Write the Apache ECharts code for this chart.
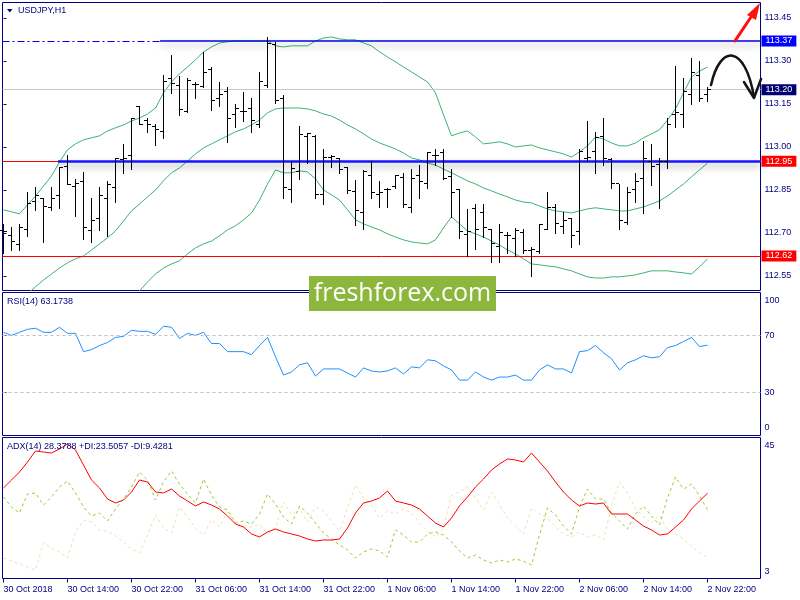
<!DOCTYPE html>
<html><head><meta charset="utf-8">
<script src="https://cdn.jsdelivr.net/npm/echarts@6/dist/echarts.min.js"></script>
<style>html,body{margin:0;padding:0;background:#fff}#c{width:800px;height:600px}</style>
</head><body><div id="c"></div>
<script>
// ---------- DATA ----------
const tickLabels = ['30 Oct 2018','30 Oct 14:00','30 Oct 22:00','31 Oct 06:00','31 Oct 14:00','31 Oct 22:00','1 Nov 06:00','1 Nov 14:00','1 Nov 22:00','2 Nov 06:00','2 Nov 14:00','2 Nov 22:00'];
const priceTicks = [112.55,112.70,112.85,113.00,113.15,113.30,113.45];
const rsiTicks = [0,30,70,100];
const adxTicks = [3,45];
const levelResistance = 113.37, levelPivot = 112.95, levelSupport = 112.62, lastPrice = 113.20;

const open = [112.710,112.690,112.660,112.713,112.811,112.821,112.789,112.832,112.931,112.862,
112.881,112.710,112.751,112.821,112.859,112.955,112.972,113.143,113.094,113.073,
113.054,113.240,113.213,113.123,113.217,113.211,113.272,113.168,113.193,113.112,
113.123,113.133,113.080,113.213,113.356,113.170,112.852,112.914,113.036,113.038,
112.836,112.963,112.960,112.929,112.844,112.772,112.902,112.835,112.853,112.862,
112.893,112.789,112.902,112.871,112.972,112.981,112.896,112.852,112.696,112.784,
112.772,112.713,112.652,112.693,112.681,112.702,112.640,112.635,112.713,112.789,
112.722,112.751,112.705,112.960,112.984,113.038,112.958,112.871,112.736,112.852,
112.890,112.951,112.939,112.949,113.112,113.112,113.182,113.251,113.182];
const high = [112.733,112.722,112.731,112.842,112.862,112.821,112.862,112.931,112.972,112.890,
112.914,112.821,112.862,112.881,112.960,113.010,113.100,113.143,113.100,113.080,
113.251,113.321,113.246,113.240,113.228,113.333,113.280,113.228,113.211,113.150,
113.193,113.170,113.263,113.383,113.368,113.182,112.949,113.073,113.050,113.042,
112.993,112.972,112.960,112.929,112.885,112.920,112.951,112.881,112.858,112.902,
112.911,112.923,112.937,112.981,112.993,112.993,112.925,112.852,112.784,112.801,
112.801,112.713,112.730,112.705,112.718,112.713,112.652,112.730,112.842,112.801,
112.774,112.751,112.993,113.092,113.051,113.100,112.960,112.871,112.859,112.911,
113.021,113.010,112.963,113.100,113.284,113.240,113.310,113.300,113.211];
const low = [112.631,112.640,112.640,112.690,112.780,112.670,112.780,112.786,112.870,112.760,
112.679,112.670,112.710,112.690,112.809,112.910,112.922,113.080,113.051,113.007,
113.030,113.190,113.112,113.123,113.170,113.211,113.129,113.143,113.018,113.071,
113.089,113.051,113.071,113.211,113.153,112.821,112.809,112.890,112.943,112.821,
112.801,112.931,112.910,112.841,112.728,112.713,112.821,112.789,112.789,112.856,
112.792,112.772,112.821,112.856,112.937,112.890,112.757,112.681,112.620,112.643,
112.687,112.600,112.600,112.631,112.620,112.631,112.550,112.631,112.713,112.701,
112.701,112.650,112.660,112.951,112.910,112.937,112.858,112.713,112.733,112.807,
112.771,112.867,112.787,112.928,113.071,113.071,113.149,113.161,113.161];
const close = [112.705,112.672,112.720,112.803,112.832,112.792,112.821,112.928,112.870,112.871,
112.718,112.742,112.830,112.870,112.960,112.960,113.100,113.080,113.079,113.062,
113.228,113.222,113.131,113.232,113.217,113.261,113.161,113.182,113.100,113.133,
113.123,113.091,113.228,113.362,113.161,112.859,112.925,113.042,113.048,112.836,
112.963,112.966,112.922,112.848,112.780,112.914,112.842,112.842,112.853,112.900,
112.801,112.890,112.881,112.981,112.972,112.890,112.842,112.705,112.705,112.713,
112.718,112.664,112.702,112.693,112.710,112.640,112.644,112.730,112.789,112.733,
112.745,112.693,112.984,112.963,113.034,112.960,112.871,112.745,112.842,112.879,
112.960,112.931,112.949,113.080,113.121,113.193,113.261,113.170,113.200];

const bandUpper = [112.781,112.774,112.767,112.798,112.829,112.864,112.899,112.948,112.990,113.011,
113.025,113.032,113.039,113.056,113.067,113.077,113.091,113.101,113.115,113.136,
113.189,113.227,113.255,113.279,113.304,113.332,113.349,113.363,113.367,113.370,
113.370,113.370,113.370,113.370,113.353,113.349,113.353,113.353,113.353,113.370,
113.380,113.384,113.377,113.374,113.374,113.363,113.353,113.332,113.314,113.297,
113.279,113.262,113.244,113.227,113.189,113.112,113.039,113.049,113.056,113.035,
113.011,113.014,113.018,113.011,113.000,113.004,113.007,112.997,112.990,112.983,
112.976,112.965,112.983,113.004,113.035,113.028,113.014,113.004,113.004,113.014,
113.032,113.046,113.060,113.094,113.133,113.189,113.244,113.265,113.279];
const bandMiddle = [null,null,null,112.488,112.512,112.536,112.557,112.578,112.596,112.610,
112.620,112.641,112.662,112.683,112.707,112.742,112.777,112.801,112.826,112.850,
112.882,112.910,112.927,112.951,112.976,112.997,113.011,113.025,113.039,113.053,
113.063,113.077,113.094,113.119,113.133,113.136,113.136,113.136,113.133,113.126,
113.115,113.108,113.094,113.077,113.063,113.046,113.028,113.014,113.004,112.993,
112.979,112.962,112.955,112.944,112.937,112.923,112.910,112.896,112.882,112.871,
112.857,112.847,112.836,112.826,112.815,112.808,112.805,112.794,112.784,112.777,
112.774,112.770,112.777,112.784,112.788,112.784,112.781,112.777,112.777,112.784,
112.791,112.801,112.812,112.829,112.850,112.871,112.896,112.920,112.944];
const bandLower = [null,null,null,null,null,null,null,null,null,null,
null,null,null,null,null,null,112.474,112.498,112.529,112.557,
112.578,112.592,112.603,112.627,112.648,112.662,112.672,112.690,112.711,112.725,
112.746,112.770,112.815,112.871,112.920,112.910,112.910,112.917,112.913,112.889,
112.850,112.833,112.815,112.781,112.746,112.732,112.721,112.711,112.697,112.686,
112.676,112.669,112.665,112.662,112.676,112.718,112.756,112.732,112.707,112.697,
112.686,112.672,112.658,112.641,112.627,112.610,112.592,112.589,112.585,112.582,
112.575,112.568,112.557,112.547,112.543,112.543,112.547,112.547,112.550,112.554,
112.561,112.568,112.568,112.568,112.564,112.561,112.557,112.582,112.610];

const rsi = [72.14,70.01,72.14,74.27,74.98,72.14,72.14,75.69,71.43,71.43,
58.64,60.06,62.90,65.03,68.59,69.30,73.56,72.85,72.85,70.72,
76.40,75.69,67.87,71.43,70.01,72.14,64.32,64.32,58.64,58.64,
58.64,56.50,62.90,68.59,55.08,42.29,44.42,49.40,50.82,41.58,
46.55,46.55,46.55,43.71,40.87,47.26,45.13,44.42,45.13,47.26,
43.00,47.97,47.26,52.95,52.24,48.68,45.84,38.73,38.73,44.42,
40.87,38.73,40.87,40.87,42.29,38.73,38.73,45.84,49.40,46.55,
46.55,43.71,58.64,59.35,62.90,57.92,53.66,45.84,50.82,52.95,
55.79,54.37,55.08,61.48,62.90,65.74,68.59,62.19,63.17];

const adx = [29.96,32.34,34.72,37.70,40.98,40.68,40.38,41.58,43.07,41.28,
36.81,32.34,29.96,26.68,25.49,26.38,28.77,32.34,31.75,28.77,
28.47,29.66,27.58,26.09,24.60,25.79,24.89,23.70,21.62,19.23,
18.34,16.26,15.36,16.85,17.75,16.85,16.26,15.66,14.77,14.17,
14.47,14.47,14.77,18.04,22.51,25.49,26.09,26.98,29.06,26.09,
25.49,24.89,23.70,21.62,19.53,18.34,21.02,24.60,27.28,30.26,
32.64,35.32,37.11,38.60,38.30,37.70,40.38,37.70,35.02,31.75,
28.77,26.38,24.60,25.49,25.19,25.49,22.21,22.21,22.21,20.43,
18.64,17.45,15.96,16.26,18.34,20.43,23.70,26.09,28.38];
const plusDI = [27.28,24.30,22.51,28.17,28.47,24.89,27.28,30.26,32.04,28.47,
24.30,21.62,22.51,20.13,23.70,26.68,30.26,34.72,32.34,26.38,
31.75,35.02,31.15,28.17,25.49,32.64,27.87,24.30,23.41,19.53,
20.13,19.23,22.21,28.17,25.19,21.32,19.23,24.60,22.51,19.53,
16.55,14.77,12.98,11.49,9.11,10.89,11.79,11.19,9.40,17.45,
15.96,13.87,13.87,16.26,16.85,15.96,13.87,11.19,9.11,10.00,
8.51,7.62,8.51,7.92,8.81,8.21,7.02,15.96,24.00,21.92,
18.64,16.26,24.30,29.66,26.68,26.68,22.51,20.13,17.75,22.21,
24.60,21.62,18.94,26.98,33.24,29.66,31.15,27.58,23.51];
const minusDI = [9.11,8.21,7.32,6.43,5.53,13.57,12.09,10.89,9.11,16.85,
20.43,19.83,17.45,17.15,15.66,13.87,11.79,10.60,15.96,21.92,
18.04,16.55,24.30,21.32,18.04,15.96,20.43,18.34,22.81,19.83,
18.34,18.34,19.23,16.26,18.04,25.79,21.92,24.00,19.83,24.30,
23.11,20.13,17.15,24.00,30.85,26.98,24.89,21.02,23.11,22.21,
23.70,22.51,19.53,17.15,15.36,18.04,27.87,28.77,30.26,26.98,
23.41,28.77,24.89,21.02,18.64,16.26,24.00,22.21,21.02,18.34,
16.26,15.36,16.85,15.36,15.96,14.47,24.60,31.75,28.47,24.00,
21.32,19.53,21.92,17.45,16.26,14.77,12.68,10.60,9.43];

// hand-drawn annotations, in (bar index, price) space
const redArrowLine = [[91.44,113.370],[93.44,113.4535]];
const redArrowHead = [[94.56,113.5024],[92.94,113.4605],[94.06,113.4431]];
const blackCurve = [[88.44,113.2163],[89.56,113.3593],[92.69,113.3593],[93.81,113.1745]];
const blackHead = [[92.56,113.2268],[93.81,113.1710],[94.69,113.2372]];

// ---------- CHART ----------
const FONT = '"Liberation Sans", Arial, sans-serif';
const NAVY = '#000080';
const X_MIN = -0.125, X_MAX = 94.625;
const xTickVals = tickLabels.map((_, k) => k * 8);
const idx = a => a.map((v, i) => [i, v]).filter(p => p[1] !== null);

const chart = echarts.init(document.getElementById('c'), null, {renderer: 'canvas'});

const gridBase = {left: 2.5, right: 39.5, show: true, borderColor: NAVY, borderWidth: 1, containLabel: false, outerBoundsMode: 'none'};
const hiddenX = gi => ({type: 'value', gridIndex: gi, min: X_MIN, max: X_MAX, show: false, splitLine: {show: false}});
const lbl = {color: NAVY, fontSize: 9, fontFamily: FONT};

const labelBox = (txt, bg) => ({show: true, position: 'end', distance: 1, formatter: txt, color: '#fff',
  backgroundColor: bg, padding: [1, 4, 0, 4], fontSize: 9, lineHeight: 10, fontFamily: FONT});
const shadow = {shadowColor: 'rgba(0,0,0,0.35)', shadowBlur: 7, shadowOffsetY: 4};

const option = {
  animation: false,
  backgroundColor: '#fff',
  grid: [
    Object.assign({top: 2.5, height: 288}, gridBase),
    Object.assign({top: 292.5, height: 143}, gridBase),
    Object.assign({top: 437.5, height: 141}, gridBase)
  ],
  xAxis: [hiddenX(0), hiddenX(1), {
    type: 'value', gridIndex: 2, min: X_MIN, max: X_MAX,
    axisLine: {show: false},
    splitLine: {show: false},
    axisTick: {show: true, customValues: xTickVals, length: 4, lineStyle: {color: NAVY}},
    axisLabel: Object.assign({customValues: xTickVals, align: 'left', margin: 7,
      formatter: v => tickLabels[Math.round(v / 8)]}, lbl)
  }],
  yAxis: [{
    type: 'value', gridIndex: 0, position: 'right', min: 112.4994, max: 113.5041, scale: true,
    axisLine: {show: false}, splitLine: {show: false},
    axisTick: {show: true, customValues: priceTicks, length: 3, lineStyle: {color: NAVY}},
    axisLabel: Object.assign({customValues: priceTicks, margin: 4, formatter: v => v.toFixed(2)}, lbl)
  }, {
    type: 'value', gridIndex: 1, position: 'right', min: 0, max: 100,
    axisLine: {show: false}, splitLine: {show: false},
    axisTick: {show: true, customValues: [30, 70], length: 3, lineStyle: {color: NAVY}},
    axisLabel: Object.assign({customValues: rsiTicks, margin: 4, showMinLabel: true, showMaxLabel: true, hideOverlap: false,
      formatter: v => v >= 100 ? '{t|100}' : (v <= 0 ? '{b|0}' : '{n|' + v + '}'),
      rich: {t: Object.assign({padding: [16, 0, 0, 0]}, lbl), b: Object.assign({padding: [0, 0, 15, 0]}, lbl), n: lbl}}, lbl)
  }, {
    type: 'value', gridIndex: 2, position: 'right', min: 3, max: 45,
    axisLine: {show: false}, splitLine: {show: false},
    axisTick: {show: false},
    axisLabel: Object.assign({customValues: adxTicks, margin: 4, showMinLabel: true, showMaxLabel: true, hideOverlap: false,
      formatter: v => v >= 45 ? '{t|45}' : '{b|3}',
      rich: {t: Object.assign({padding: [16, 0, 0, 0]}, lbl), b: Object.assign({padding: [0, 0, 14, 0]}, lbl)}}, lbl)
  }],
  series: [
    {
      type: 'line', name: 'BB upper', xAxisIndex: 0, yAxisIndex: 0, data: idx(bandUpper),
      showSymbol: false, symbol: 'none', lineStyle: {color: '#3cb371', width: 1}, z: 2
    },
    {
      type: 'line', name: 'BB middle', xAxisIndex: 0, yAxisIndex: 0, data: idx(bandMiddle),
      showSymbol: false, symbol: 'none', lineStyle: {color: '#3cb371', width: 1}, z: 2
    },
    {
      type: 'line', name: 'BB lower', xAxisIndex: 0, yAxisIndex: 0, data: idx(bandLower),
      showSymbol: false, symbol: 'none', lineStyle: {color: '#3cb371', width: 1}, z: 2
    },
    {
      type: 'line', name: 'levels', xAxisIndex: 0, yAxisIndex: 0, data: [], z: 4,
      markLine: {
        silent: true, symbol: ['none', 'none'], animation: false, precision: 2,
        data: [
          {yAxis: lastPrice, lineStyle: {color: '#c8c8c8', type: 'solid', width: 1}, label: labelBox('113.20', '#000070')},
          {yAxis: levelSupport, lineStyle: {color: '#ff0000', type: 'solid', width: 1}, label: labelBox('112.62', '#ff0000')},
          {yAxis: levelPivot + 0.0035, lineStyle: {color: '#ff0000', type: 'solid', width: 1}, label: {show: false}},
          {yAxis: levelPivot - 0.0035, lineStyle: {color: '#ff0000', type: 'solid', width: 1}, label: {show: false}},
          [{coord: [6.81, levelPivot], lineStyle: Object.assign({color: '#1414ff', type: 'solid', width: 2.5}, shadow), label: labelBox('112.95', '#ff0000')},
           {coord: [X_MAX, levelPivot]}],
          [{coord: [X_MIN, levelResistance], lineStyle: {color: '#0000e6', type: [7, 3, 2, 3], width: 1}, label: {show: false}},
           {coord: [19.56, levelResistance]}],
          [{coord: [19.56, levelResistance], lineStyle: Object.assign({color: '#0000e6', type: 'solid', width: 1.5}, shadow), label: labelBox('113.37', '#0000ff')},
           {coord: [X_MAX, levelResistance]}]
        ]
      }
    },
    {
      type: 'custom', name: 'USDJPY', xAxisIndex: 0, yAxisIndex: 0, z: 5,
      data: open.map((o, i) => [i, o, high[i], low[i], close[i]]),
      encode: {x: 0, y: [1, 2, 3, 4]},
      renderItem: function (params, api) {
        const i = api.value(0);
        const pH = api.coord([i, api.value(2)]), pL = api.coord([i, api.value(3)]);
        const pO = api.coord([i, api.value(1)]), pC = api.coord([i, api.value(4)]);
        const n = Math.round(pH[0] - 0.5);
        const x = n + 0.5;
        const s = y => Math.round(y - 0.5) + 0.5;
        const st = {stroke: '#000', lineWidth: 1};
        return {type: 'group', children: [
          {type: 'line', shape: {x1: x, y1: Math.round(pH[1]), x2: x, y2: Math.round(pL[1]) + 1}, style: st},
          {type: 'line', shape: {x1: n - 3, y1: s(pO[1]), x2: n, y2: s(pO[1])}, style: st},
          {type: 'line', shape: {x1: n + 1, y1: s(pC[1]), x2: n + 4, y2: s(pC[1])}, style: st}
        ]};
      }
    },
    {
      type: 'line', name: 'RSI(14)', xAxisIndex: 1, yAxisIndex: 1, data: idx(rsi),
      showSymbol: false, symbol: 'none', lineStyle: {color: '#1e90ff', width: 1},
      markLine: {silent: true, symbol: ['none', 'none'], animation: false, label: {show: false},
        lineStyle: {color: '#c0c0c0', type: [3, 3], width: 1},
        data: [{yAxis: 70}, {yAxis: 30}]}
    },
    {
      type: 'line', name: '-DI', xAxisIndex: 2, yAxisIndex: 2, data: idx(minusDI),
      showSymbol: false, symbol: 'none', lineStyle: {color: '#f5deb3', width: 1, type: [3, 3]}
    },
    {
      type: 'line', name: '+DI', xAxisIndex: 2, yAxisIndex: 2, data: idx(plusDI),
      showSymbol: false, symbol: 'none', lineStyle: {color: '#9acd32', width: 1, type: [3, 3]}
    },
    {
      type: 'line', name: 'ADX', xAxisIndex: 2, yAxisIndex: 2, data: idx(adx),
      showSymbol: false, symbol: 'none', lineStyle: {color: '#ff0000', width: 1}
    },
    {
      type: 'custom', name: 'annotations', xAxisIndex: 0, yAxisIndex: 0, clip: false, z: 20,
      data: [[90, 113.3]],
      renderItem: function (params, api) {
        const c = p => api.coord(p);
        const l0 = c(redArrowLine[0]), l1 = c(redArrowLine[1]);
        const b = blackCurve.map(c);
        return {type: 'group', children: [
          {type: 'line', shape: {x1: l0[0], y1: l0[1], x2: l1[0], y2: l1[1]}, style: {stroke: '#ff1010', lineWidth: 3, lineCap: 'round'}},
          {type: 'polygon', shape: {points: redArrowHead.map(c)}, style: {fill: '#ff1010'}},
          {type: 'bezierCurve', shape: {x1: b[0][0], y1: b[0][1], cpx1: b[1][0], cpy1: b[1][1], cpx2: b[2][0], cpy2: b[2][1], x2: b[3][0], y2: b[3][1]},
            style: {stroke: '#151515', lineWidth: 2.5, fill: null, lineCap: 'round'}},
          {type: 'polyline', shape: {points: blackHead.map(c)}, style: {stroke: '#151515', lineWidth: 2.5, fill: null, lineCap: 'round', lineJoin: 'round'}}
        ]};
      }
    }
  ],
  graphic: [
    {type: 'polygon', shape: {points: [[7, 9], [12.5, 9], [9.75, 12.5]]}, style: {fill: NAVY}, z: 50},
    {type: 'text', left: 18, top: 6, style: {text: 'USDJPY,H1', fill: NAVY, fontSize: 9, fontFamily: FONT}, z: 50},
    {type: 'text', left: 7, top: 297, style: {text: 'RSI(14) 63.1738', fill: NAVY, fontSize: 9, fontFamily: FONT}, z: 50},
    {type: 'text', left: 7, top: 442, style: {text: 'ADX(14) 28.3788 +DI:23.5057 -DI:9.4281', fill: NAVY, fontSize: 9, fontFamily: FONT}, z: 50},
    {type: 'rect', shape: {x: 309, y: 276, width: 187, height: 35}, style: {fill: '#8db63c'}, z: 60},
    {type: 'text', x: 402.5, y: 293.5, style: {text: 'freshforex.com', fill: '#ffffff', fontSize: 25, fontFamily: '"Open Sans", sans-serif',
      align: 'center', verticalAlign: 'middle'}, z: 61}
  ]
};
chart.setOption(option);
</script>
</body></html>
